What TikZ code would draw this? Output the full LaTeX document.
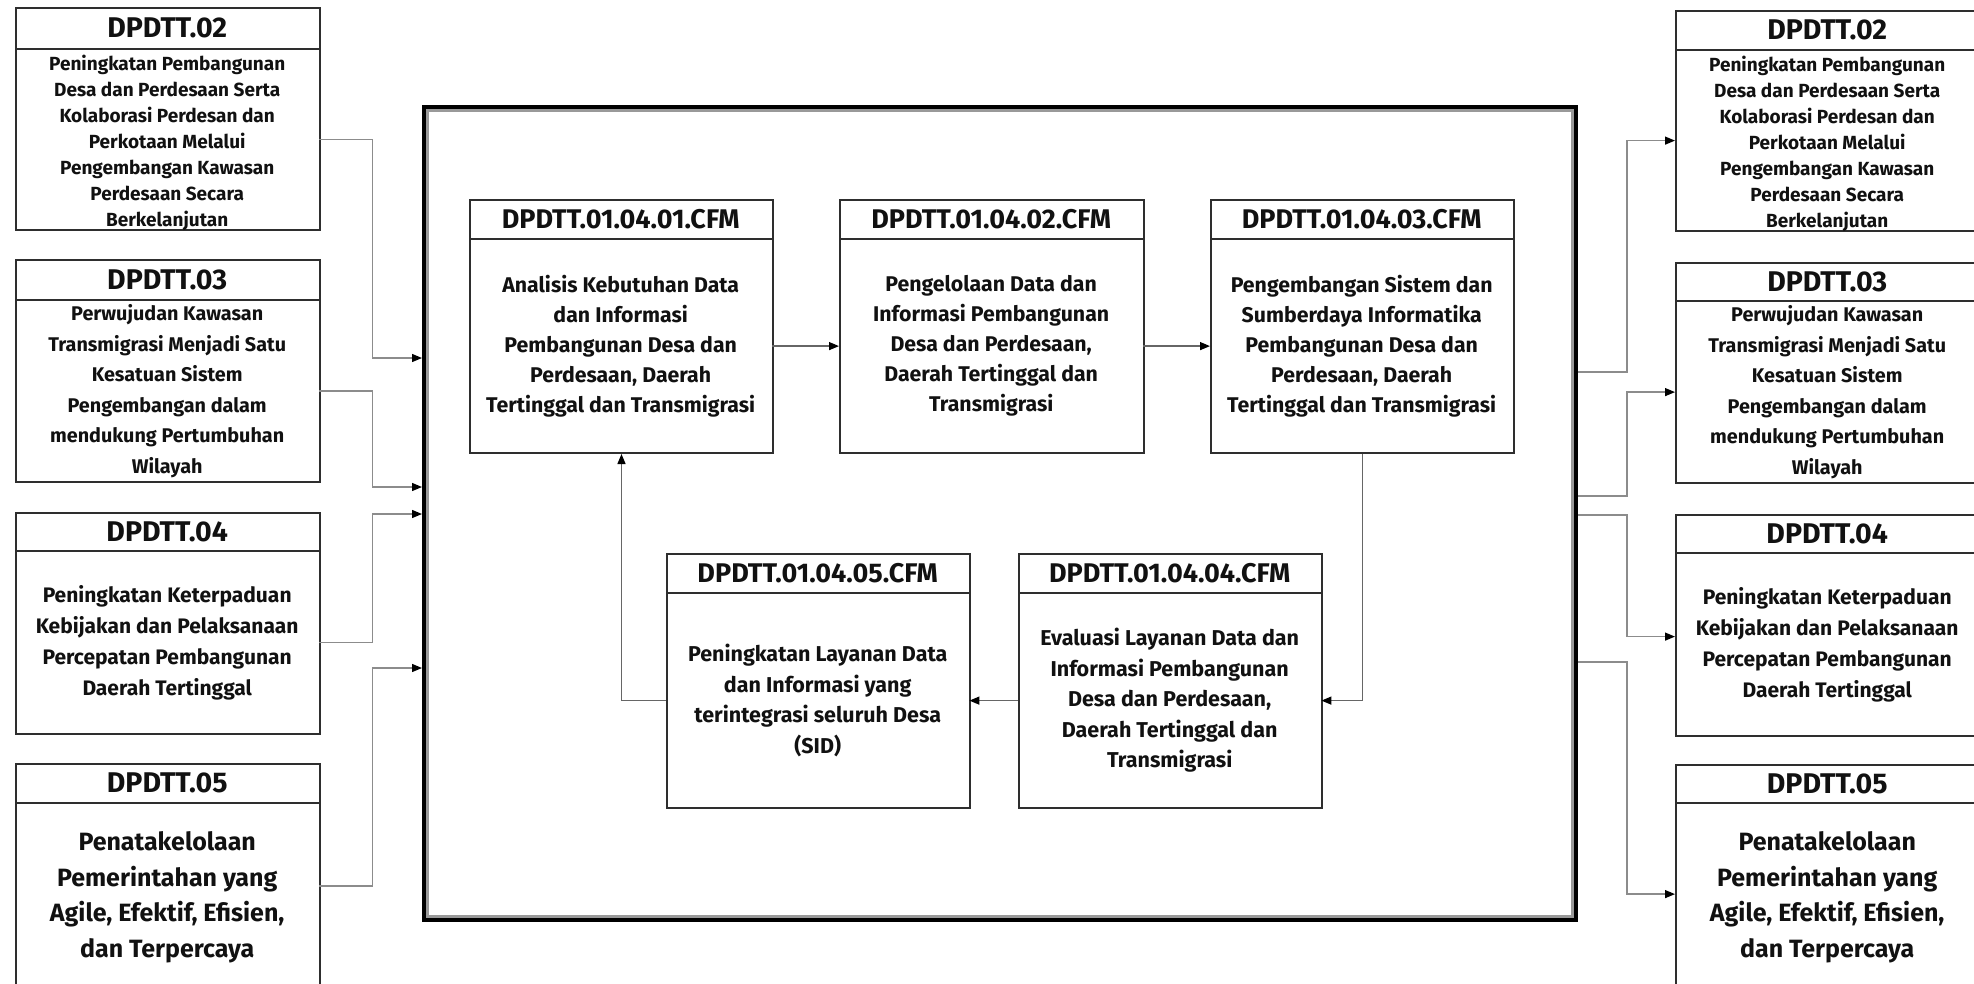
\documentclass[tikz,border=0pt]{standalone}
\usepackage{fontspec}
\setmainfont{Fira Sans}
\usetikzlibrary{arrows.meta,calc}

\definecolor{boxgray}{HTML}{2E2E2E}
\definecolor{linegray}{HTML}{8C8C8C}
\definecolor{inkblack}{HTML}{111111}

\tikzset{
  boxframe/.style={draw=boxgray, line width=2pt, fill=white, inner sep=0pt},
  boxline/.style={draw=boxgray, line width=2pt},
  outtitle/.style={font=\bfseries\fontsize{28.5}{32}\selectfont, text=inkblack},
  intitle/.style={font=\bfseries\fontsize{27}{30}\selectfont, text=inkblack},
  txt/.style 2 args={font=\bfseries\fontsize{#1}{#2}\selectfont, align=center,
    text=inkblack, inner sep=0pt},
  conn/.style={draw=linegray, line width=1.3pt,
    -{Triangle[length=10pt,width=8pt,color=black]}},
  link/.style={conn, draw=black!60},
}

% #1 name, #2 left, #3 top, #4 width, #5 height, #6 header height,
% #7 title style, #8 title
\newcommand{\cfmbox}[8]{%
  \node[boxframe, minimum width=#4pt, minimum height=#5pt, anchor=north west]
    (#1) at (#2,#3) {};
  \node[inner sep=0pt, minimum width=#4pt, minimum height=#6pt,
    anchor=north west, #7] (#1-h) at (#2,#3) {#8};
  \draw[boxline] (#1-h.south west) -- (#1-h.south east);
  \node[inner sep=0pt, minimum width=#4pt, minimum height={(#5-#6)*1pt},
    anchor=north west] (#1-b) at (#1-h.south west) {};
}

\begin{document}
\begin{tikzpicture}[x=1pt,y=-1pt]
\useasboundingbox (0,0) rectangle (1974,983);
\fill[white] (0,0) rectangle (1974,983);
\begin{scope}
\clip (0,0) rectangle (1974,983);

% outer frame of the process group: heavy black rule with a grey inner rule
\node[draw=black, line width=4pt, minimum width=1152pt, minimum height=813pt,
  anchor=north west, inner sep=0pt] (frame) at (422,105) {};
\draw[draw=black!40, line width=2.5pt]
  ([shift={(5.5pt,-5.5pt)}]frame.north west) rectangle ([shift={(-5.5pt,5.5pt)}]frame.south east);

% left column
\cfmbox{L2}{15}{7}{304}{222}{42}{outtitle}{DPDTT.02}
\node[txt={19}{26}] (L2-t) at ([yshift=-3pt]L2-b.center)
  {Peningkatan Pembangunan\\Desa dan Perdesaan Serta\\Kolaborasi Perdesan dan\\Perkotaan Melalui\\Pengembangan Kawasan\\Perdesaan Secara\\Berkelanjutan};
\cfmbox{L3}{15}{259}{304}{222}{41}{outtitle}{DPDTT.03}
\node[txt={19.8}{30.5}] (L3-t) at (L3-b.center)
  {Perwujudan Kawasan\\Transmigrasi Menjadi Satu\\Kesatuan Sistem\\Pengembangan dalam\\mendukung Pertumbuhan\\Wilayah};
\cfmbox{L4}{15}{512}{304}{221}{39}{outtitle}{DPDTT.04}
\node[txt={21}{31}] (L4-t) at (L4-b.center)
  {Peningkatan Keterpaduan\\Kebijakan dan Pelaksanaan\\Percepatan Pembangunan\\Daerah Tertinggal};
\cfmbox{L5}{15}{763}{304}{227}{40}{outtitle}{DPDTT.05}
\node[txt={25}{35.5}] (L5-t) at (L5-b.center)
  {Penatakelolaan\\Pemerintahan yang\\Agile, Efektif, Efisien,\\dan Terpercaya};

% right column
\cfmbox{R2}{1675}{10}{304}{220}{40}{outtitle}{DPDTT.02}
\node[txt={19}{26}] (R2-t) at ([yshift=-3pt]R2-b.center)
  {Peningkatan Pembangunan\\Desa dan Perdesaan Serta\\Kolaborasi Perdesan dan\\Perkotaan Melalui\\Pengembangan Kawasan\\Perdesaan Secara\\Berkelanjutan};
\cfmbox{R3}{1675}{262}{304}{220}{39}{outtitle}{DPDTT.03}
\node[txt={19.8}{30.5}] (R3-t) at (R3-b.center)
  {Perwujudan Kawasan\\Transmigrasi Menjadi Satu\\Kesatuan Sistem\\Pengembangan dalam\\mendukung Pertumbuhan\\Wilayah};
\cfmbox{R4}{1675}{514}{304}{221}{39}{outtitle}{DPDTT.04}
\node[txt={21}{31}] (R4-t) at (R4-b.center)
  {Peningkatan Keterpaduan\\Kebijakan dan Pelaksanaan\\Percepatan Pembangunan\\Daerah Tertinggal};
\cfmbox{R5}{1675}{764}{304}{226}{39}{outtitle}{DPDTT.05}
\node[txt={25}{35.5}] (R5-t) at (R5-b.center)
  {Penatakelolaan\\Pemerintahan yang\\Agile, Efektif, Efisien,\\dan Terpercaya};

% inner process boxes
\cfmbox{A}{469}{199}{303}{253}{40}{intitle}{DPDTT.01.04.01.CFM}
\node[txt={21.3}{30}] (A-t) at (A-b.center)
  {Analisis Kebutuhan Data\\dan Informasi\\Pembangunan Desa dan\\Perdesaan, Daerah\\Tertinggal dan Transmigrasi};
\cfmbox{B}{839}{199}{304}{253}{40}{intitle}{DPDTT.01.04.02.CFM}
\node[txt={21.3}{30}] (B-t) at (B-b.center)
  {Pengelolaan Data dan\\Informasi Pembangunan\\Desa dan Perdesaan,\\Daerah Tertinggal dan\\Transmigrasi};
\cfmbox{C}{1210}{199}{303}{253}{40}{intitle}{DPDTT.01.04.03.CFM}
\node[txt={21.3}{30}] (C-t) at (C-b.center)
  {Pengembangan Sistem dan\\Sumberdaya Informatika\\Pembangunan Desa dan\\Perdesaan, Daerah\\Tertinggal dan Transmigrasi};
\cfmbox{D}{666}{553}{303}{254}{40}{intitle}{DPDTT.01.04.05.CFM}
\node[txt={21.5}{30.5}] (D-t) at (D-b.center)
  {Peningkatan Layanan Data\\dan Informasi yang\\terintegrasi seluruh Desa\\(SID)};
\cfmbox{E}{1018}{553}{303}{254}{40}{intitle}{DPDTT.01.04.04.CFM}
\node[txt={21.5}{30.5}] (E-t) at (E-b.center)
  {Evaluasi Layanan Data dan\\Informasi Pembangunan\\Desa dan Perdesaan,\\Daerah Tertinggal dan\\Transmigrasi};

% entry and exit points on the frame
\coordinate (inL2) at ([yshift=-253pt]frame.north west);
\coordinate (inL3) at ([yshift=-382pt]frame.north west);
\coordinate (inL4) at ([yshift=-409pt]frame.north west);
\coordinate (inL5) at ([yshift=-563pt]frame.north west);
\coordinate (outR2) at ([yshift=-267pt]frame.north east);
\coordinate (outR3) at ([yshift=-391pt]frame.north east);
\coordinate (outR4) at ([yshift=-410pt]frame.north east);
\coordinate (outR5) at ([yshift=-557pt]frame.north east);

% inputs
\draw[conn] (L2-b.east) -- ++(53,0) |- (inL2);
\draw[conn] (L3-b.east) -- ++(53,0) |- (inL3);
\draw[conn] (L4-b.east) -- ++(53,0) |- (inL4);
\draw[conn] ([yshift=11pt]L5-b.east) -- ++(53,0) |- (inL5);

% outputs
\draw[conn] (outR2) -- ++(49,0) |- (R2-b.west);
\draw[conn] (outR3) -- ++(49,0) |- (R3-b.west);
\draw[conn] (outR4) -- ++(49,0) |- ([yshift=8pt]R4-b.west);
\draw[conn] (outR5) -- ++(49,0) |- ([yshift=3pt]R5-b.west);

% process flow
\draw[link] (A-b.east) -- (B-b.west);
\draw[link] (B-b.east) -- (C-b.west);
\draw[link] (C.south) |- (E-b.east);
\draw[link] (E-b.west) -- (D-b.east);
\draw[link] (D-b.west) -| (A.south);
\end{scope}
\end{tikzpicture}
\end{document}
